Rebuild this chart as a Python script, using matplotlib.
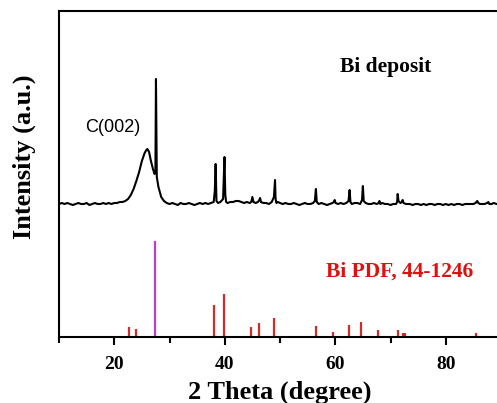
import numpy as np
import matplotlib.pyplot as plt

plt.rcParams['font.family'] = ['Liberation Serif', 'DejaVu Serif']

# measured pattern of the Bi deposit (2theta, intensity above its own baseline)
sample_2theta = [
    10.0, 10.5, 11.0, 11.5, 12.0, 12.5, 13.0, 13.5, 14.0, 14.5, 15.0, 15.5, 16.0, 16.5,
    17.0, 17.5, 18.0, 18.5, 19.0, 19.5, 20.0, 20.5, 21.0, 21.5, 22.0, 22.5, 23.0, 23.5,
    24.0, 24.5, 25.0, 25.5, 25.8, 26.0, 26.3, 26.6, 27.0, 27.3, 27.45, 27.55, 27.7, 28.0,
    28.5, 29.0, 29.5, 30.0, 30.5, 31.0, 31.5, 32.0, 32.5, 33.0, 33.5, 34.0, 34.5, 35.0,
    35.5, 36.0, 36.5, 37.0, 37.5, 38.0, 38.2, 38.35, 38.5, 38.8, 39.2, 39.7, 39.95, 40.1,
    40.25, 40.5, 41.0, 41.5, 42.0, 42.5, 43.0, 43.5, 44.0, 44.5, 44.8, 45.0, 45.2, 45.6,
    46.0, 46.25, 46.4, 46.55, 47.0, 47.5, 48.0, 48.5, 48.9, 49.1, 49.2, 49.35, 49.6, 50.0,
    50.5, 51.0, 51.5, 52.0, 52.5, 53.0, 53.5, 54.0, 54.5, 55.0, 55.5, 56.0, 56.3, 56.5,
    56.65, 57.0, 57.5, 58.0, 58.5, 59.0, 59.5, 59.75, 59.9, 60.05, 60.5, 61.0, 61.5, 62.0,
    62.4, 62.6, 62.75, 63.0, 63.5, 64.0, 64.5, 64.85, 65.0, 65.15, 65.5, 66.0, 66.5, 67.0,
    67.5, 67.85, 68.0, 68.15, 68.5, 69.0, 69.5, 70.0, 70.5, 71.0, 71.2, 71.3, 71.45, 71.8,
    72.05, 72.2, 72.35, 72.8, 73.5, 74.0, 74.5, 75.0, 75.5, 76.0, 76.5, 77.0, 77.5, 78.0,
    78.5, 79.0, 79.5, 80.0, 80.5, 81.0, 81.5, 82.0, 82.5, 83.0, 83.5, 84.0, 84.5, 85.0,
    85.4, 85.7, 85.9, 86.2, 86.6, 87.0, 87.5, 87.7, 87.9, 88.3, 88.7, 89.2, 90.0,
]
sample_intensity = [
    1, 2, 1, 2, 1, 0, 1, 2, 1, 1, 2, 0, 1, 2,
    1, 1, 2, 1, 2, 1, 2, 2, 3, 3, 4, 6, 10, 16,
    24, 33, 44, 52, 55, 56, 53, 45, 36, 31, 34, 126, 28, 18,
    8, 4, 2, 1, 2, 1, 0, 2, 1, 1, 2, 1, 0, 1,
    2, 1, 2, 1, 2, 3, 14, 41, 4, 2, 3, 6, 48, 10,
    3, 2, 3, 3, 4, 4, 3, 2, 3, 2, 3, 8, 3, 2,
    3, 5, 7, 3, 2, 2, 1, 3, 8, 25, 6, 2, 3, 2,
    1, 2, 1, 1, 2, 1, 0, 1, 2, 1, 1, 2, 4, 16,
    3, 1, 2, 1, 0, 1, 2, 3, 5, 2, 1, 2, 1, 2,
    4, 15, 3, 1, 2, 2, 1, 5, 19, 4, 2, 1, 1, 2,
    1, 2, 4, 1, 2, 1, 1, 0, 1, 1, 3, 11, 4, 2,
    3, 5, 2, 1, 1, 0, 1, 1, 0, 1, 0, 1, 1, 0,
    1, 1, 0, 1, 0, 1, 0, 1, 1, 0, 1, 1, 1, 1,
    2, 4, 2, 1, 1, 1, 2, 3, 1, 1, 2, 1, 1,
]

# Bi PDF 44-1246 reference lines
pdf_2theta = [22.7, 23.9, 27.4, 38.1, 39.9, 44.8, 46.2, 48.9, 56.5, 59.6,
              62.4, 64.7, 67.8, 71.3, 72.2, 72.6, 85.5]
pdf_intensity = [10, 8, 100, 33, 45, 10, 15, 20, 11, 5,
                 12, 16, 7, 7, 4, 4, 4]

sample_offset = 132
pdf_scale = 0.96

fig = plt.figure(figsize=(4.97, 4.03), dpi=100)
ax = fig.add_axes([59 / 497, 66 / 403, 442 / 497, 326 / 403])

ax.plot(sample_2theta, np.array(sample_intensity) + sample_offset, color='black', lw=1.5)

pdf_x = np.array(pdf_2theta)
pdf_y = np.array(pdf_intensity) * pdf_scale
colors = ['#c03cc0' if v == max(pdf_intensity) else '#d42a2a' for v in pdf_intensity]
ax.vlines(pdf_x, 0, pdf_y, colors=colors, lw=1.6)

ax.text(19.7, 209, 'C(002)', fontsize=13, ha='center', va='center',
        family=['Liberation Sans', 'DejaVu Sans'])
ax.text(69.2, 270, 'Bi deposit', fontsize=15.5, fontweight='bold', ha='center', va='center')
ax.text(71.7, 65, 'Bi PDF, 44-1246', fontsize=15.5, fontweight='bold', color='#e01010',
        ha='center', va='center')

ax.set_xlim(10, 90)
ax.set_ylim(0, 326)
ax.set_xticks([20, 40, 60, 80])
ax.set_xticks([10, 30, 50, 70], minor=True)
ax.set_yticks([])
ax.tick_params(axis='x', which='major', direction='out', length=6, width=1.5, labelsize=14, pad=8)
ax.tick_params(axis='x', which='minor', direction='out', length=4, width=1.5)
for lab in ax.get_xticklabels():
    lab.set_fontweight('bold')

for side in ['left', 'top', 'bottom']:
    ax.spines[side].set_linewidth(1.5)
ax.spines['right'].set_visible(False)

ax.set_xlabel('2 Theta (degree)', fontsize=19, fontweight='bold')
ax.xaxis.set_label_coords((280 - 59) / 442, -(381 - 337) / 326)
ax.set_ylabel('Intensity (a.u.)', fontsize=19, fontweight='bold')
ax.yaxis.set_label_coords(-(59 - 36) / 442, (337 - 157) / 326)

fig.savefig('out.png', dpi=100)
